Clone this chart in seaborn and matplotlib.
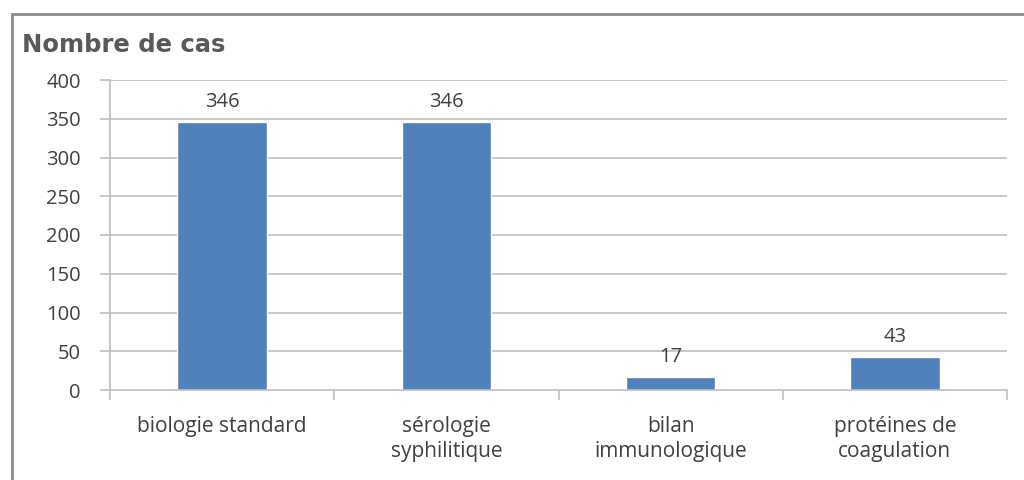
import matplotlib
matplotlib.use("Agg")
import matplotlib.pyplot as plt
import seaborn as sns
import pandas as pd
from matplotlib.patches import Rectangle

categories = ["biologie standard", "sérologie\nsyphilitique", "bilan\nimmunologique", "protéines de\ncoagulation"]
counts = [346, 346, 17, 43]
yticks = [0, 50, 100, 150, 200, 250, 300, 350, 400]

sns.set_theme(style="white")
plt.rcParams["font.family"] = ["Open Sans", "DejaVu Sans"]

text_color = "#404040"
bar_color = "#4F81BD"
grid_color = "#BFBFBF"

df = pd.DataFrame({"categorie": categories, "cas": counts})

fig = plt.figure(figsize=(10.24, 4.8), dpi=100)
ax = fig.add_axes([110 / 1024, 1 - 390 / 480, 897 / 1024, 310 / 480])

sns.barplot(data=df, x="categorie", y="cas", color=bar_color, width=0.4,
            saturation=1, ax=ax)

ax.set_ylim(0, 400)
ax.set_xlim(-0.5, len(categories) - 0.5)
ax.set_yticks(yticks)
ax.set_yticklabels([str(v) for v in yticks], fontsize=14.5, color=text_color)
ax.set_xticks(range(len(categories)))
ax.set_xticklabels(categories, fontsize=15, color=text_color, linespacing=1.2)
ax.set_xlabel("")
ax.set_ylabel("")

# Horizontal gridlines
for v in yticks[1:]:
    ax.axhline(v, color=grid_color, lw=1.2, zorder=0)

# Tick marks: outward on y, category boundaries on x
ax.tick_params(axis="y", which="major", left=True, length=7, width=1.2,
               color=grid_color, direction="out", pad=14)
ax.tick_params(axis="x", which="major", bottom=False, length=0, pad=19)
ax.set_xticks([i - 0.5 for i in range(len(categories) + 1)], minor=True)
ax.tick_params(axis="x", which="minor", bottom=True, length=7, width=1.2,
               color=grid_color, direction="out")

for side in ["top", "right"]:
    ax.spines[side].set_visible(False)
for side in ["left", "bottom"]:
    ax.spines[side].set_color(grid_color)
    ax.spines[side].set_linewidth(1.2)

# Value labels above bars
for container in ax.containers:
    ax.bar_label(container, labels=[str(v) for v in counts], padding=7,
                 fontsize=14.5, color=text_color)

# Title in the upper-left corner
fig.text(22 / 1024, 1 - 45 / 480, "Nombre de cas", fontsize=17.5, fontweight="bold",
         color="#595959", va="center", ha="left", family=["DejaVu Sans"])

# Chart frame
frame = Rectangle((12 / 1024, -0.05), 1.1, 1 - 14 / 480 + 0.05,
                  transform=fig.transFigure, fill=False, edgecolor="#8C8C8C",
                  linewidth=2, clip_on=False)
fig.patches.append(frame)

fig.savefig("out.png", dpi=100)
